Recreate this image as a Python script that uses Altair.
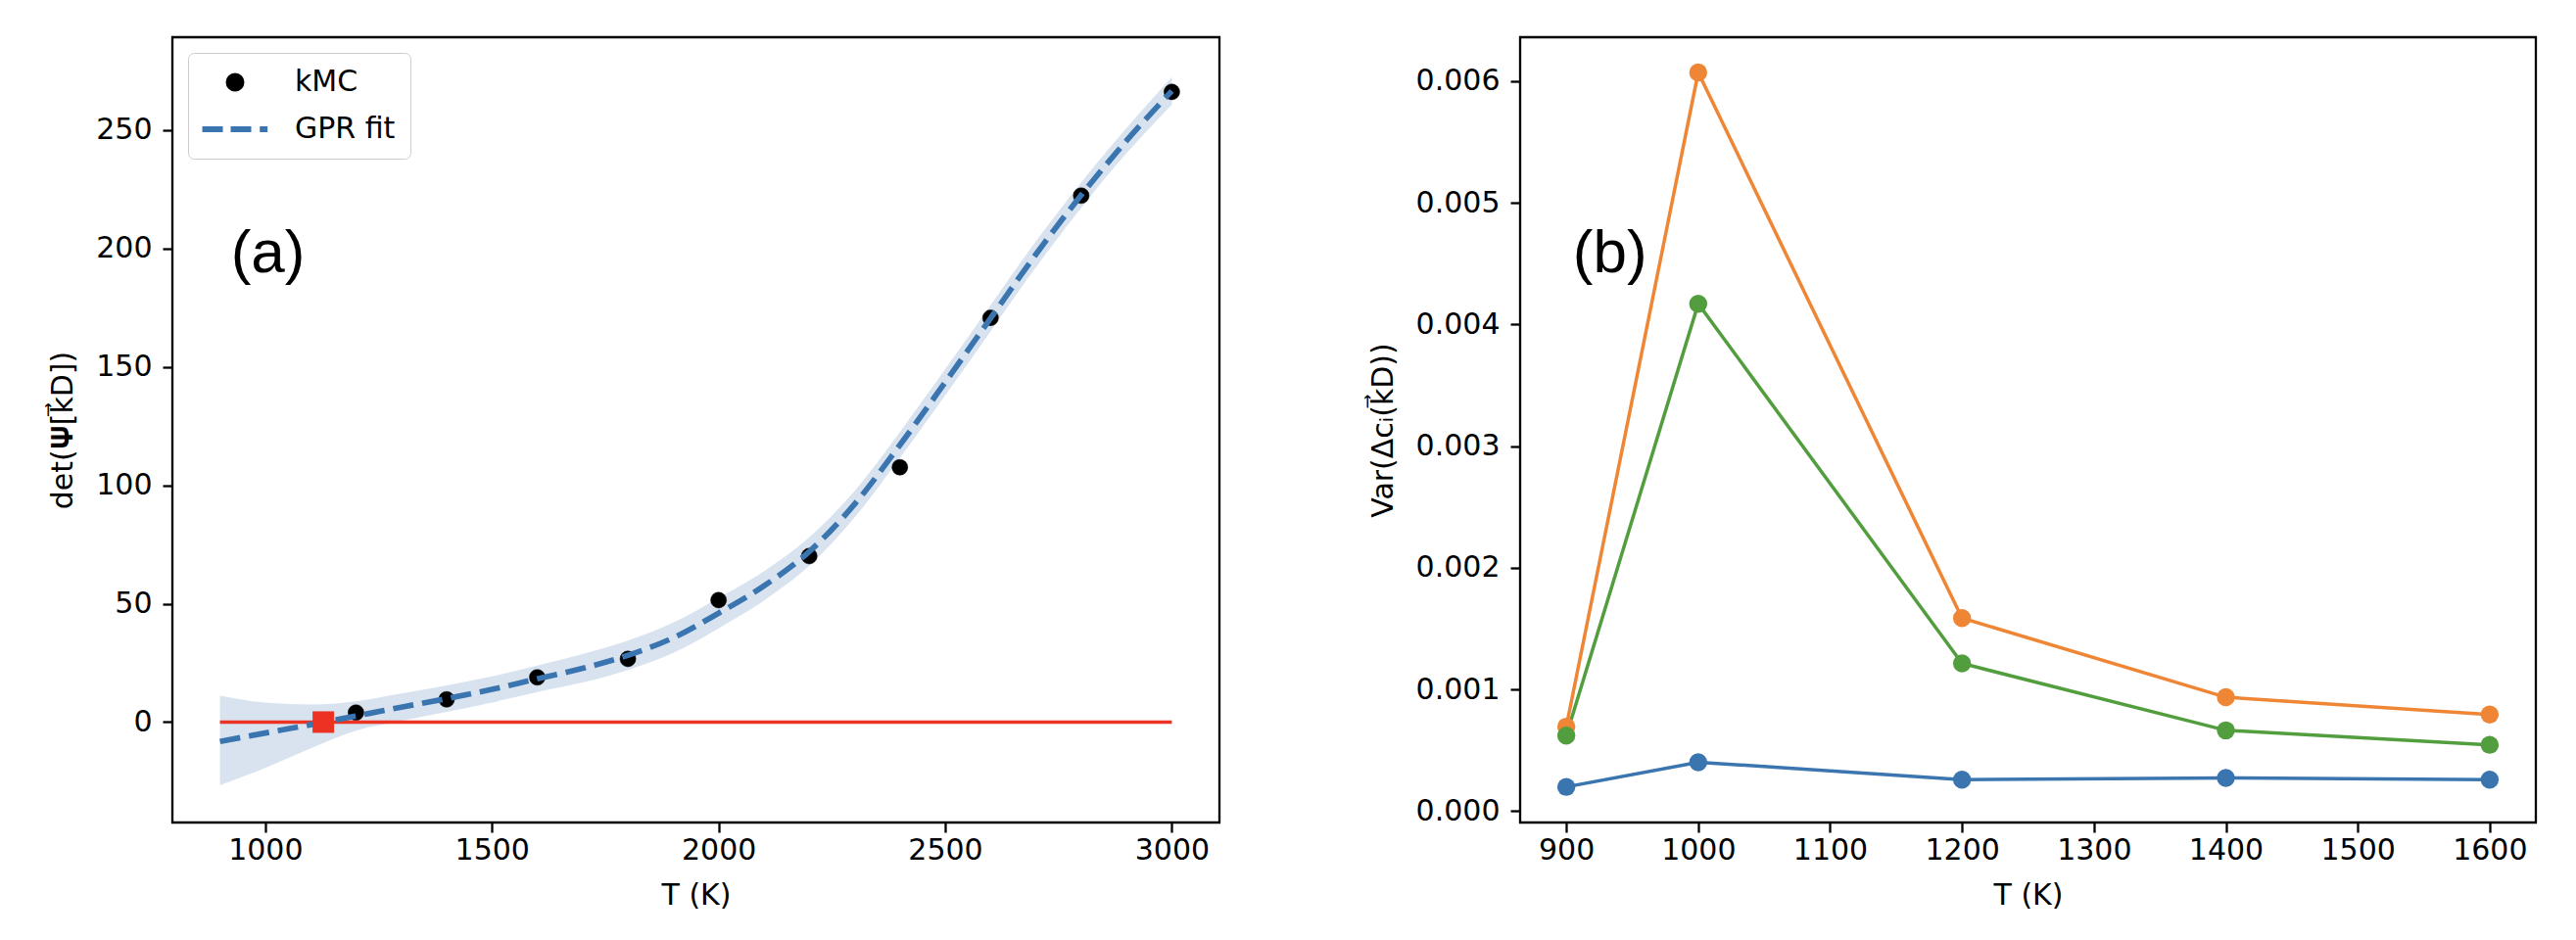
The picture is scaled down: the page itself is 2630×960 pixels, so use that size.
import altair as alt
import pandas as pd

# ---------------- data: panel (a) ----------------
kmc_T = [1200, 1400, 1600, 1800, 2000, 2200, 2400, 2600, 2800, 3000]
kmc_det = [4.0, 9.6, 18.9, 26.7, 51.5, 70.1, 107.6, 170.7, 222.3, 266.1]

gpr_T = [900, 1000, 1100, 1200, 1300, 1400, 1500, 1600, 1700, 1800, 1900,
         2000, 2100, 2200, 2300, 2400, 2500, 2600, 2700, 2800, 2900, 3000]
gpr_mean = [-8.2, -4.6, -1.1, 2.6, 6.3, 9.9, 13.8, 18.3, 22.7, 28.2, 35.6,
            46.0, 57.5, 72.0, 92.0, 117.0, 143.5, 170.5, 197.5, 222.5, 245.5, 266.5]
gpr_upper = [11.1, 8.2, 7.4, 8.8, 12.1, 15.5, 19.3, 23.9, 28.7, 34.4, 42.0,
             52.4, 63.7, 78.0, 97.6, 122.5, 149.0, 176.0, 203.0, 227.8, 250.8, 272.3]
gpr_lower = [-26.7, -19.3, -11.1, -3.6, 0.5, 4.3, 8.3, 12.7, 16.7, 22.0, 29.2,
             39.6, 51.3, 66.0, 86.4, 111.5, 138.0, 165.0, 192.0, 217.2, 240.2, 260.7]

zero_T = [900, 3000]
zero_v = [0, 0]
root_T = [1128]
root_v = [0]

# ---------------- data: panel (b) ----------------
T_b = [900, 1000, 1200, 1400, 1600]
var_Nb = [0.000199, 0.000402, 0.000258, 0.000273, 0.000258]
var_Mo = [0.000694, 0.00607, 0.001586, 0.000936, 0.000793]
var_Ta = [0.000620, 0.00417, 0.001214, 0.000664, 0.000545]
elements = ["Nb", "Mo", "Ta"]

# annotation labels
lab_a = {"T": [924], "v": [198], "text": ["(a)"]}
lab_b = {"T": [905], "v": [0.004585], "text": ["(b)"]}

BLUE = "#3a75b0"
ORANGE = "#ef8636"
GREEN = "#529e3f"
RED = "#ec3323"
FONT = "DejaVu Sans"
FS = 30

df_kmc = pd.DataFrame({"T": kmc_T, "det": kmc_det, "series": "kMC"})
df_gpr = pd.DataFrame({"T": gpr_T, "mean": gpr_mean, "upper": gpr_upper, "lower": gpr_lower})
df_zero = pd.DataFrame({"T": zero_T, "v": zero_v})
df_root = pd.DataFrame({"T": root_T, "v": root_v})
df_la = pd.DataFrame(lab_a)
df_lb = pd.DataFrame(lab_b)

rows = []
for el, vals in zip(elements, [var_Nb, var_Mo, var_Ta]):
    for t, v in zip(T_b, vals):
        rows.append({"T": t, "var": v, "element": el})
df_b = pd.DataFrame(rows)

# ---------------- panel (a) ----------------
xa = alt.Scale(domain=[795, 3105], nice=False, zero=False)
ya = alt.Scale(domain=[-42.4, 289.2], nice=False, zero=False)
x_axis_a = alt.Axis(values=[1000, 1500, 2000, 2500, 3000], format="d", title="T (K)")
y_axis_a = alt.Axis(values=[0, 50, 100, 150, 200, 250], format="d",
                    title="det(𝚿[k⃗D])")

series_dom = ["kMC", "GPR fit"]
dash_path = "M-5.15,0L-1.92,0M-0.69,0L2.54,0M3.88,0L5.1,0"


def legend_a():
    return alt.Legend(
        title=None, orient="top-left", offset=16, padding=15,
        symbolOffset=18, labelOffset=46, rowPadding=14,
        labelFont=FONT, labelFontSize=FS, labelColor="black",
        strokeColor="#cccccc", fillColor="white", cornerRadius=6,
        symbolSize=169, symbolStrokeWidth=6, symbolOpacity=1,
    )


band = alt.Chart(df_gpr).mark_area(color=BLUE, opacity=0.2, interpolate="monotone").encode(
    x=alt.X("T:Q", scale=xa, axis=x_axis_a),
    y=alt.Y("upper:Q", scale=ya, axis=y_axis_a),
    y2="lower:Q",
)
pts_a = alt.Chart(df_kmc).mark_point(filled=True, size=260, opacity=1, strokeWidth=0.5).encode(
    x="T:Q", y="det:Q",
    fill=alt.Fill("series:N", scale=alt.Scale(domain=series_dom, range=["black", "transparent"]),
                  legend=legend_a()),
    stroke=alt.Stroke("series:N", scale=alt.Scale(domain=series_dom, range=["black", BLUE]),
                      legend=legend_a()),
    shape=alt.Shape("series:N", scale=alt.Scale(domain=series_dom, range=["circle", dash_path]),
                    legend=legend_a()),
)
zero = alt.Chart(df_zero).mark_line(color=RED, strokeWidth=3.5).encode(x="T:Q", y="v:Q")
fit = alt.Chart(df_gpr).mark_line(color=BLUE, strokeWidth=5.7, strokeDash=[21, 9],
                                  interpolate="monotone").encode(x="T:Q", y="mean:Q")
root = alt.Chart(df_root).mark_point(shape="square", filled=True, size=484, color=RED,
                                     opacity=1).encode(x="T:Q", y="v:Q")
txt_a = alt.Chart(df_la).mark_text(align="left", baseline="middle", fontSize=62,
                                   font="Liberation Sans", color="black").encode(
    x="T:Q", y="v:Q", text="text:N")

left = alt.layer(band, pts_a, zero, fit, root, txt_a).properties(width=1069, height=802)

# ---------------- panel (b) ----------------
xb = alt.Scale(domain=[865, 1635], nice=False, zero=False)
yb = alt.Scale(domain=[-0.0000935, 0.00636], nice=False, zero=False)
cb = alt.Scale(domain=elements, range=[BLUE, ORANGE, GREEN])
x_axis_b = alt.Axis(values=[900, 1000, 1100, 1200, 1300, 1400, 1500, 1600], format="d", title="T (K)")
y_axis_b = alt.Axis(values=[0, 0.001, 0.002, 0.003, 0.004, 0.005, 0.006], format=".3f",
                    title="Var(Δcᵢ(k⃗D))")
legend_b = alt.Legend(
    title=None, orient="top-right", offset=17, padding=15,
    symbolOffset=16, labelOffset=47, rowPadding=17,
    labelFont=FONT, labelFontSize=FS, labelColor="black",
    strokeColor="#cccccc", fillColor="white", cornerRadius=6,
    symbolSize=320, symbolStrokeWidth=0, symbolOpacity=1, symbolType="circle",
)

lines_b = alt.Chart(df_b).mark_line(strokeWidth=3.5).encode(
    x=alt.X("T:Q", scale=xb, axis=x_axis_b),
    y=alt.Y("var:Q", scale=yb, axis=y_axis_b),
    color=alt.Color("element:N", scale=cb, legend=None),
)
pts_b = alt.Chart(df_b).mark_point(filled=True, size=340, opacity=1).encode(
    x="T:Q", y="var:Q",
    color=alt.Color("element:N", scale=cb, legend=legend_b),
)
txt_b = alt.Chart(df_lb).mark_text(align="left", baseline="middle", fontSize=62,
                                   font="Liberation Sans", color="black").encode(
    x="T:Q", y="v:Q", text="text:N")

right = alt.layer(lines_b, pts_b, txt_b).properties(width=1037, height=802)

chart = alt.hconcat(left, right, spacing=148).resolve_scale(
    x="independent", y="independent", color="independent",
    fill="independent", stroke="independent", shape="independent",
).properties(
    padding={"left": 40, "top": 28, "right": 5, "bottom": 5},
    background="white",
).configure_view(
    stroke="black", strokeWidth=2.3
).configure_axis(
    domain=False, grid=False,
    labelFont=FONT, labelFontSize=FS, labelColor="black",
    tickColor="black", tickSize=10, tickWidth=2.3,
    titleFont=FONT, titleFontSize=FS, titleFontWeight="normal", titleColor="black",
).configure_axisX(
    labelPadding=3, titlePadding=16
).configure_axisY(
    labelPadding=11, titlePadding=18
)

chart.save("out.html", embed_options={"renderer": "svg", "actions": False})
